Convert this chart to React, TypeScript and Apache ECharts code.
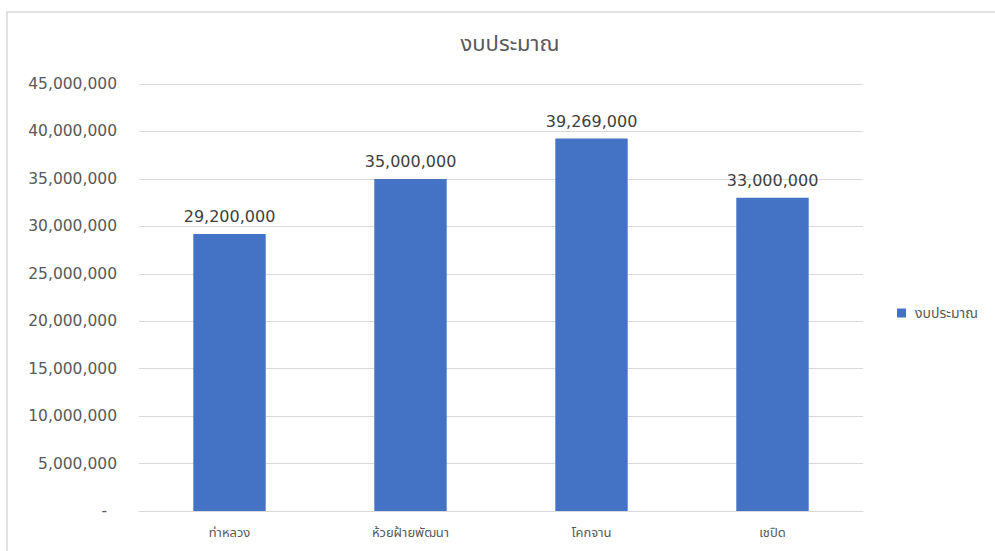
import React, { useEffect, useRef } from "react";
import * as echarts from "echarts";

const categories = ["ท่าหลวง", "ห้วยฝ้ายพัฒนา", "โคกจาน", "เชปิด"];
const budgetValues = [29200000, 35000000, 39269000, 33000000];
const seriesName = "งบประมาณ";
const chartTitle = "งบประมาณ";
const yMin = 0;
const yMax = 45000000;
const yInterval = 5000000;

const FONT = "'DejaVu Sans', 'Noto Sans', 'Noto Sans Thai', Tahoma, sans-serif";

const fmt = (v: number) =>
  v === 0 ? "-\u00a0\u00a0" : v.toLocaleString("en-US");

export default function App() {
  const ref = useRef<HTMLDivElement>(null);
  useEffect(() => {
    if (!ref.current) return;
    const chart = echarts.init(ref.current, null, { renderer: "svg" });
    chart.setOption({
      animation: false,
      backgroundColor: "#ffffff",
      textStyle: { fontFamily: FONT },
      title: {
        text: chartTitle,
        left: 505,
        top: 27,
        textAlign: "center",
        textStyle: {
          fontSize: 22,
          fontWeight: "normal",
          color: "#595959",
          fontFamily: FONT,
        },
      },
      legend: {
        data: [seriesName],
        orient: "vertical",
        left: 892,
        top: 301,
        itemWidth: 9,
        itemHeight: 9,
        icon: "rect",
        textStyle: {
          fontSize: 14,
          color: "#595959",
          fontFamily: FONT,
          padding: [0, 0, 0, 4],
        },
      },
      graphic: [
        {
          type: "rect",
          silent: true,
          shape: { x: 7, y: 12, width: 1100, height: 600 },
          style: { fill: "none", stroke: "#d9d9d9", lineWidth: 1.5 },
        },
      ],
      grid: { left: 139, right: 132, top: 84, bottom: 40, containLabel: false },
      xAxis: {
        type: "category",
        data: categories,
        axisTick: { show: false },
        axisLine: { lineStyle: { color: "#d9d9d9", width: 1 } },
        axisLabel: {
          color: "#595959",
          fontSize: 13,
          margin: 15,
          fontFamily: FONT,
        },
      },
      yAxis: {
        type: "value",
        min: yMin,
        max: yMax,
        interval: yInterval,
        axisLine: { show: false },
        axisTick: { show: false },
        splitLine: { lineStyle: { color: "#d9d9d9", width: 1 } },
        axisLabel: {
          color: "#595959",
          fontSize: 15.5,
          margin: 22,
          fontFamily: FONT,
          formatter: (v: number) => fmt(v),
        },
      },
      series: [
        {
          name: seriesName,
          type: "bar",
          data: budgetValues,
          barWidth: "40%",
          itemStyle: { color: "#4472C4" },
          label: {
            show: true,
            position: "top",
            distance: 9,
            color: "#404040",
            fontSize: 16,
            fontFamily: FONT,
            formatter: (p: any) => fmt(p.value),
          },
        },
      ],
    });
    return () => chart.dispose();
  }, []);
  return (
    <div
      ref={ref}
      style={{ position: "fixed", left: 0, top: 0, width: 995, height: 551 }}
    />
  );
}
